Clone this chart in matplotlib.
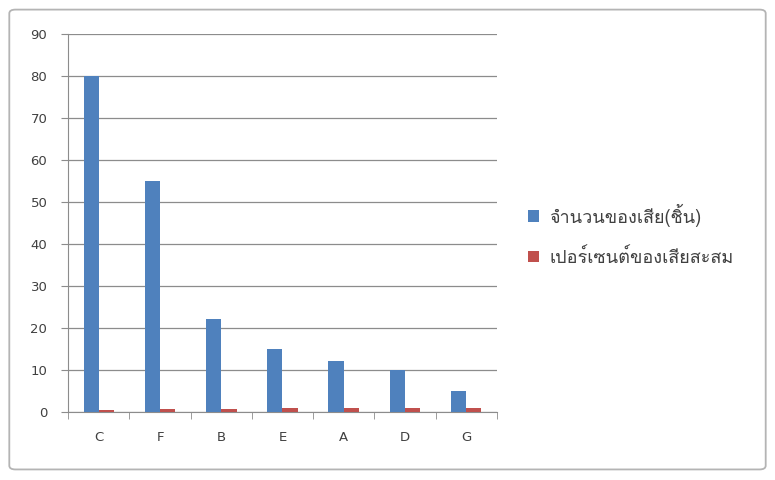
import matplotlib
matplotlib.use("Agg")
import matplotlib.pyplot as plt
from matplotlib import font_manager
from matplotlib.ft2font import FT2Font
from matplotlib.patches import FancyBboxPatch
import numpy as np

categories = ["C", "F", "B", "E", "A", "D", "G"]
defects = [80, 55, 22, 15, 12, 10, 5]
cum_percent = [0.40, 0.68, 0.79, 0.87, 0.93, 0.97, 1.00]
labels = ["จำนวนของเสีย(ชิ้น)", "เปอร์เซนต์ของเสียสะสม"]


def find_thai_font():
    # look for any installed font that has Thai glyphs
    for f in font_manager.fontManager.ttflist:
        try:
            cmap = FT2Font(f.fname).get_charmap()
        except Exception:
            continue
        if 0x0E08 in cmap and 0x0E19 in cmap:
            return f.name
    return None


thai = find_thai_font()
families = ["DejaVu Sans"]
if thai:
    families = [thai, "DejaVu Sans"]

plt.rcParams["font.family"] = ["DejaVu Sans"]

fig = plt.figure(figsize=(7.75, 4.8), dpi=100)
fig.patch.set_facecolor("white")

# chart frame
frame = FancyBboxPatch((0.012, 0.022), 0.976, 0.958, boxstyle="round,pad=0,rounding_size=0.008",
                       transform=fig.transFigure, facecolor="none", edgecolor="#b4b4b4",
                       linewidth=1.3, zorder=5)
fig.patches.append(frame)

ax = fig.add_axes([0.088, 0.142, 0.553, 0.787])
ax.set_facecolor("white")
x = np.arange(len(categories))
w = 0.25
b1 = ax.bar(x - w / 2, defects, w, color="#4F81BD", label=labels[0], zorder=3)
b2 = ax.bar(x + w / 2, cum_percent, w, color="#C0504D", label=labels[1], zorder=3)

ax.set_xlim(-0.5, len(categories) - 0.5)
ax.set_ylim(0, 90)
ax.set_yticks(range(0, 91, 10))
ax.yaxis.grid(True, color="#8c8c8c", linewidth=0.9, zorder=0)
ax.set_axisbelow(True)
ax.set_xticks(x)
ax.set_xticklabels(categories)
ax.set_xticks(np.arange(-0.5, len(categories), 1), minor=True)
ax.tick_params(axis="x", which="major", length=0, pad=14, labelsize=9.5, colors="#404040")
ax.tick_params(axis="x", which="minor", length=5, color="#8c8c8c")
ax.tick_params(axis="y", length=5, color="#8c8c8c", labelsize=9.5, labelcolor="#404040", pad=10)
for s in ["top", "right"]:
    ax.spines[s].set_visible(False)
for s in ["left", "bottom"]:
    ax.spines[s].set_color("#8c8c8c")

fig.legend(handles=[b1, b2], labels=labels, loc="center left", bbox_to_anchor=(0.66, 0.51),
           frameon=False, handlelength=0.6, handleheight=0.6, handletextpad=0.6,
           labelspacing=1.2, prop={"family": families, "size": 13}, labelcolor="#404040")

fig.savefig("out.png", dpi=100)
